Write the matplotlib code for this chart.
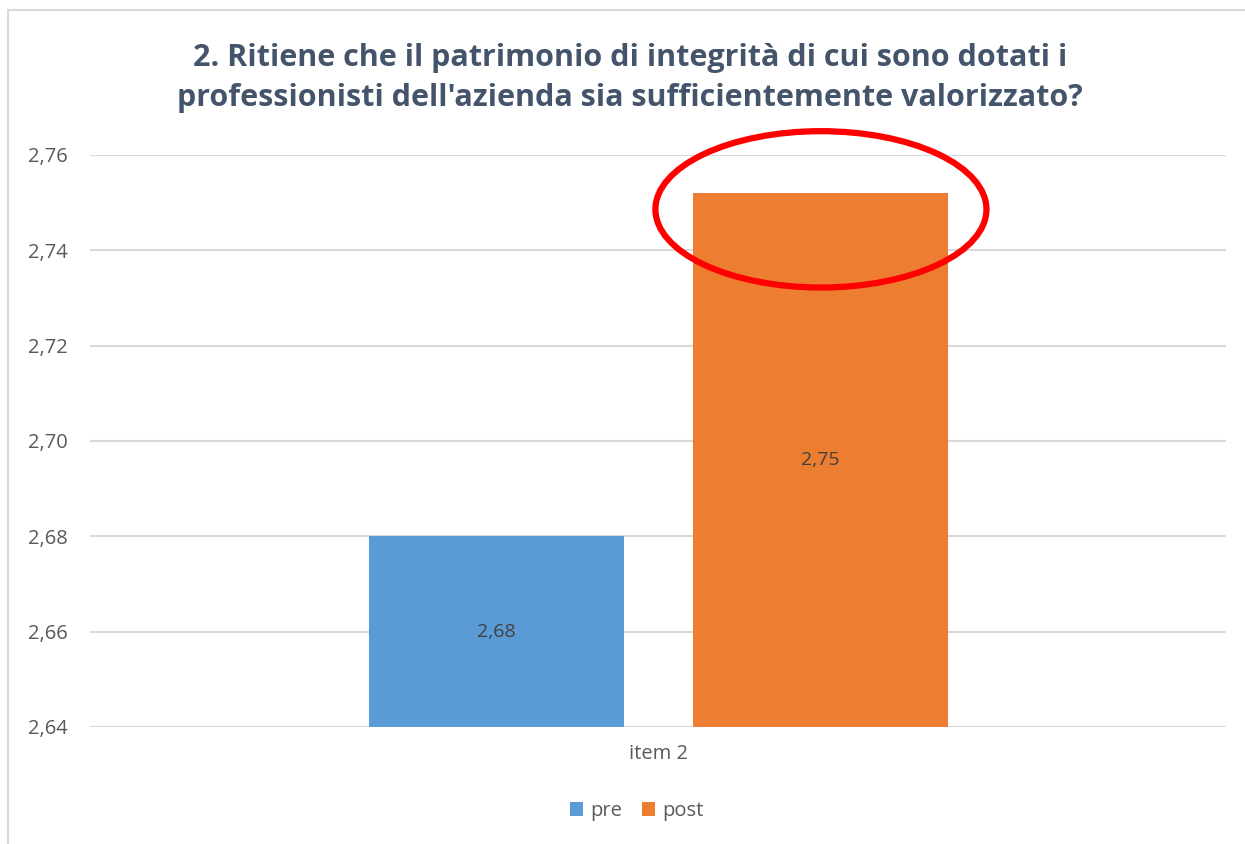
import matplotlib
matplotlib.use('Agg')
import matplotlib.pyplot as plt
from matplotlib.patches import Ellipse
from matplotlib.lines import Line2D

# data
categories = ['item 2']
series = ['pre', 'post']
values = [2.68, 2.752]
labels = ['2,68', '2,75']
colors = ['#5B9BD5', '#ED7D31']
yticks = [2.64, 2.66, 2.68, 2.70, 2.72, 2.74, 2.76]

plt.rcParams['font.family'] = ['Open Sans', 'DejaVu Sans']

fig = plt.figure(figsize=(12.45, 8.44), dpi=100)
ax = fig.add_axes([90 / 1245, 1 - 727 / 844, 1136 / 1245, 572 / 844])

offsets = [-0.5, 0.5]
width = 0.787
for i, s in enumerate(series):
    ax.bar(offsets[i], values[i] - yticks[0], width, bottom=yticks[0],
           color=colors[i], label=s, zorder=3)
    ax.text(offsets[i], (values[i] + yticks[0]) / 2, labels[i],
            ha='center', va='center', fontsize=14, color='#404040', zorder=4)

ax.set_xlim(-1.755, 1.752)
ax.set_ylim(yticks[0], yticks[-1])
ax.set_yticks(yticks)
ax.set_yticklabels([('%.2f' % t).replace('.', ',') for t in yticks],
                   fontsize=14.5, color='#595959')
ax.set_xticks([0])
ax.set_xticklabels(categories, fontsize=14.5, color='#595959')
ax.tick_params(axis='both', length=0)
ax.tick_params(axis='y', pad=16)
ax.tick_params(axis='x', pad=12)
ax.grid(axis='y', color='#D9D9D9', lw=1.5, zorder=0)
for sp in ax.spines.values():
    sp.set_visible(False)

# red highlight ellipse around the post bar
ax.add_patch(Ellipse((0.5015, 2.7486), 1.022, 0.0328, fill=False,
                     edgecolor='#FF0000', lw=4.5, zorder=5, clip_on=False))

fig.text(630 / 1245, 1 - 78 / 844,
         "2. Ritiene che il patrimonio di integrità di cui sono dotati i\n"
         "professionisti dell'azienda sia sufficientemente valorizzato?",
         ha='center', va='center', fontsize=22, fontweight='bold',
         color='#44546A', linespacing=1.45)

leg = fig.legend(loc='center', bbox_to_anchor=(637 / 1245, 1 - 811 / 844),
                 ncol=2, frameon=False, fontsize=14.5, handlelength=0.65,
                 handleheight=0.65, handletextpad=0.35, columnspacing=1.0)
for t in leg.get_texts():
    t.set_color('#595959')

# chart border
fig.add_artist(Line2D([8 / 1245, 8 / 1245], [0, 1 - 10 / 844],
                      transform=fig.transFigure, color='#D9D9D9', lw=1.5))
fig.add_artist(Line2D([8 / 1245, 1], [1 - 10 / 844, 1 - 10 / 844],
                      transform=fig.transFigure, color='#D9D9D9', lw=1.5))

plt.savefig('out.png', dpi=100)
